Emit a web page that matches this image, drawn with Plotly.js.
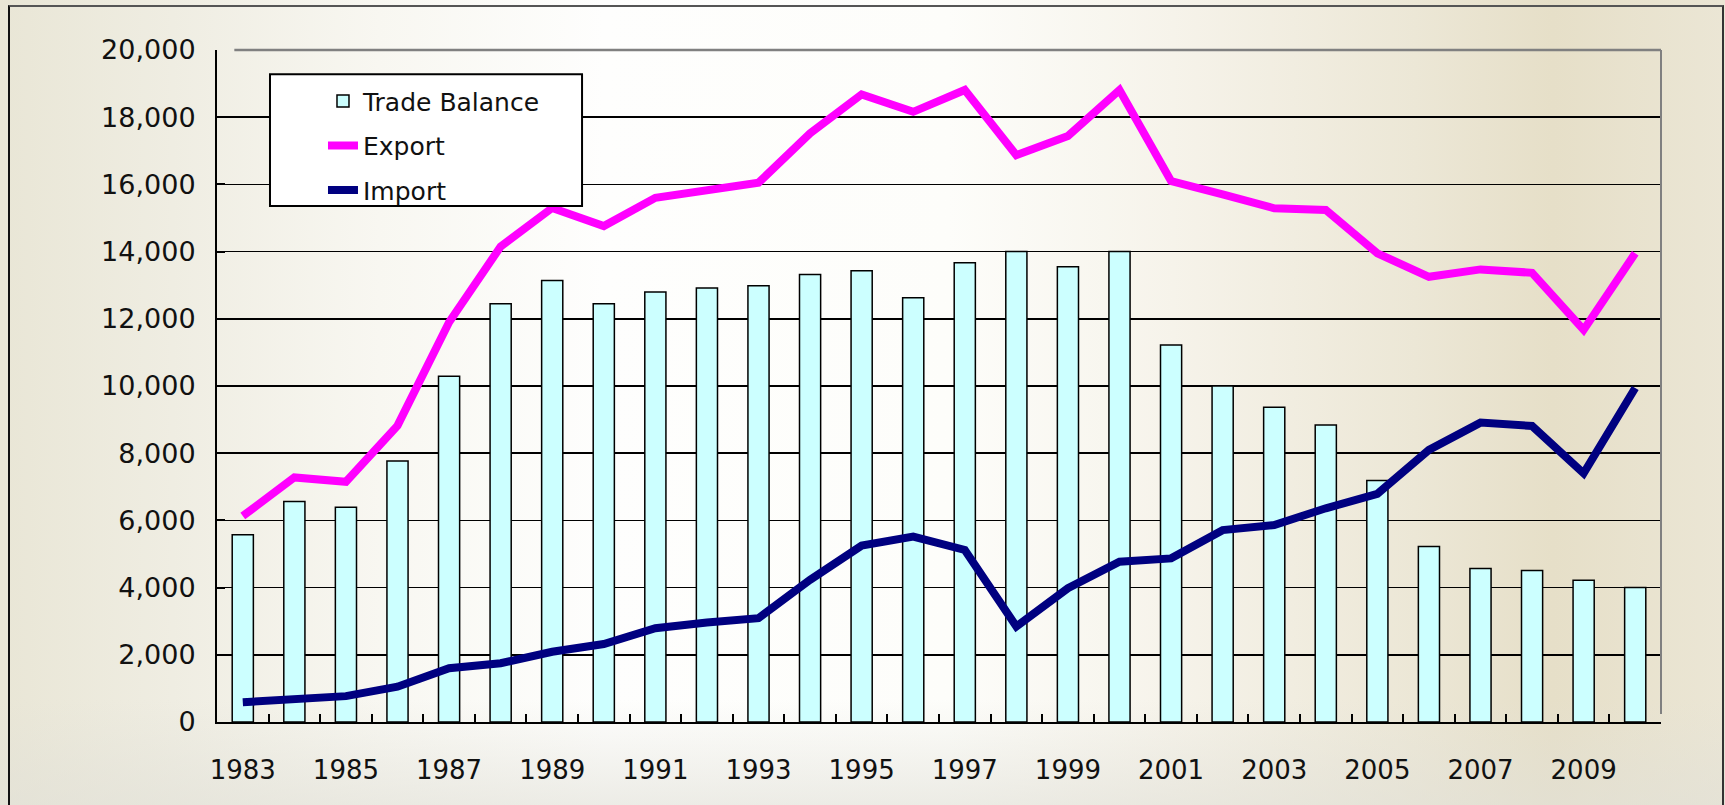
<!DOCTYPE html>
<html>
<head>
<meta charset="utf-8">
<script src="https://cdn.plot.ly/plotly-3.0.1.min.js"></script>
<style>
  html, body { margin: 0; padding: 0; }
  body {
    width: 1725px; height: 805px; overflow: hidden; position: relative;
    background: linear-gradient(90deg, #e9e6d6 0%, #efede2 10%, #f8f7f1 22%, #fefefd 35%, #fdfdfa 55%, #f6f3ea 68%, #ece7d6 82%, #e6dfc8 90%, #ebe6d5 100%);
  }
  #shade {
    position: absolute; left: 0; top: 700px; width: 1725px; height: 105px;
    background: linear-gradient(180deg, rgba(230,228,215,0) 0%, rgba(225,224,215,0.6) 100%);
  }
  #frame {
    position: absolute; left: 8px; top: 5px; width: 1712px; height: 900px;
    border-left: 2px solid #111; border-top: 2px solid #555; border-right: 2px solid #333;
  }
  #chart { position: absolute; left: 0; top: 0; width: 1725px; height: 805px; }
</style>
</head>
<body>
<div id="shade"></div>
<div id="frame"></div>
<div id="chart"></div>
<script>
const years = [1983, 1984, 1985, 1986, 1987, 1988, 1989, 1990, 1991, 1992, 1993, 1994, 1995, 1996,
               1997, 1998, 1999, 2000, 2001, 2002, 2003, 2004, 2005, 2006, 2007, 2008, 2009, 2010];
const tradeBalance = [5570, 6560, 6390, 7770, 10290, 12450, 13140, 12450, 12800, 12920, 12980, 13320, 13430, 12630,
                      13670, 14000, 13550, 14000, 11220, 10000, 9370, 8840, 7190, 5220, 4570, 4510, 4220, 4000];
const exportVals = [6130, 7280, 7150, 8820, 11900, 14150, 15300, 14760, 15600, 15850, 16050, 17520, 18680, 18160,
                    18810, 16870, 17440, 18810, 16100, 15700, 15290, 15240, 13950, 13250, 13470, 13370, 11670, 13950];
const importVals = [590, 700, 770, 1050, 1600, 1750, 2090, 2320, 2790, 2960, 3090, 4230, 5250, 5520,
                    5120, 2840, 3980, 4770, 4870, 5710, 5860, 6360, 6790, 8100, 8910, 8810, 7400, 9940];
const xTickLabels = ["1983", "1985", "1987", "1989", "1991", "1993", "1995", "1997", "1999", "2001", "2003", "2005", "2007", "2009"];
const seriesNames = ["Trade Balance", "Export", "Import"];

const xTickVals = xTickLabels.map(Number);
const boundaries = years.slice(0, -1).map(y => y + 0.5);
const xRange = [years[0] - 0.5, years[years.length - 1] + 0.5];
const FONT = "DejaVu Sans, sans-serif";

const traces = [
  {
    type: "bar", name: seriesNames[0], x: years, y: tradeBalance, width: 0.41,
    marker: { color: "#CCFFFF", line: { color: "#000000", width: 1.5 } },
    legendgroup: "a"
  },
  {
    type: "scatter", mode: "lines", name: seriesNames[1], x: years, y: exportVals,
    line: { color: "#FF00FF", width: 8 }, legendgroup: "b"
  },
  {
    type: "scatter", mode: "lines", name: seriesNames[2], x: years, y: importVals,
    line: { color: "#000080", width: 8 }, legendgroup: "c"
  },
  {
    type: "scatter", mode: "lines", x: [], y: [], xaxis: "x2", yaxis: "y",
    showlegend: false, hoverinfo: "skip"
  }
];

const layout = {
  width: 1725, height: 805,
  margin: { l: 217, r: 64, t: 50, b: 83 },
  paper_bgcolor: "rgba(0,0,0,0)",
  plot_bgcolor: "rgba(0,0,0,0)",
  font: { family: FONT, color: "#111111" },
  bargap: 0,
  showlegend: true,
  legend: {
    x: 0.0734, y: 0.958, xanchor: "left", yanchor: "top",
    bgcolor: "rgba(0,0,0,0)", borderwidth: 0,
    font: { family: FONT, size: 25, color: "#111111" },
    traceorder: "grouped", tracegroupgap: 9
  },
  xaxis: {
    range: xRange, tickmode: "array", tickvals: xTickVals, ticktext: xTickLabels,
    ticks: "", showgrid: false, zeroline: false,
    showline: true, linecolor: "#000000", linewidth: 2,
    tickfont: { family: FONT, size: 26, color: "#111111" },
    ticklabelstandoff: 24
  },
  xaxis2: {
    overlaying: "x", anchor: "y", side: "bottom", range: xRange,
    tickmode: "array", tickvals: boundaries, ticks: "inside", ticklen: 8, tickwidth: 2,
    tickcolor: "#000000", showticklabels: false, showgrid: false, zeroline: false, showline: false
  },
  yaxis: {
    range: [0, 20000], dtick: 2000, tickformat: ",d",
    showgrid: true, gridcolor: "#000000", gridwidth: 1.5,
    showline: true, linecolor: "#000000", linewidth: 2,
    ticks: "inside", ticklen: 8, tickwidth: 2, tickcolor: "#000000",
    zeroline: false,
    tickfont: { family: FONT, size: 27, color: "#111111" },
    ticklabelstandoff: 14
  },
  shapes: [
    { type: "line", xref: "paper", yref: "paper", x0: 0.012, x1: 1, y0: 1, y1: 1,
      line: { color: "#808080", width: 2.5 }, layer: "above" },
    { type: "line", xref: "paper", yref: "paper", x0: 1, x1: 1, y0: 0.012, y1: 1,
      line: { color: "#808080", width: 2 }, layer: "above" },
    { type: "rect", xref: "paper", yref: "paper", x0: 0.0367, x1: 0.2528, y0: 0.768, y1: 0.964,
      fillcolor: "#ffffff", line: { color: "#000000", width: 2 }, layer: "above" }
  ]
};

Plotly.newPlot("chart", traces, layout, { displayModeBar: false, staticPlot: true });
</script>
</body>
</html>
